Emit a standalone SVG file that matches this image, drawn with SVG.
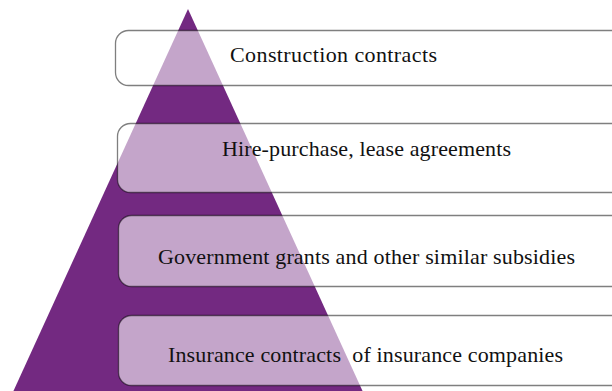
<svg xmlns="http://www.w3.org/2000/svg" width="612" height="391" viewBox="0 0 612 391">
<style>
.box{fill:#ffffff;fill-opacity:0.58;stroke:#000;stroke-opacity:0.5;stroke-width:1.3}
.lbl{font-family:"Liberation Serif","DejaVu Serif",serif;font-size:22px;fill:#111;text-anchor:middle}
</style>
<rect width="612" height="391" fill="#ffffff"/>
<g id="pyramid"><polygon points="188,9 363,392 13,392" fill="#732981"/></g>
<g id="connectors"></g>
<g id="n1"><rect class="box" x="115.5" y="30.5" width="510" height="55" rx="13"/><text class="lbl" x="333.5" y="62" textLength="207">Construction contracts</text></g>
<g id="n2"><rect class="box" x="117.5" y="123.5" width="510" height="69" rx="13"/><text class="lbl" x="366.5" y="156" textLength="289">Hire-purchase, lease agreements</text></g>
<g id="n3"><rect class="box" x="118.5" y="215.5" width="510" height="71" rx="13"/><text class="lbl" x="366.5" y="264" textLength="417">Government grants and other similar subsidies</text></g>
<g id="n4"><rect class="box" x="118.5" y="315.5" width="510" height="70" rx="13"/><text class="lbl" x="365.5" y="362" textLength="395" xml:space="preserve">Insurance contracts  of insurance companies</text></g>
</svg>
